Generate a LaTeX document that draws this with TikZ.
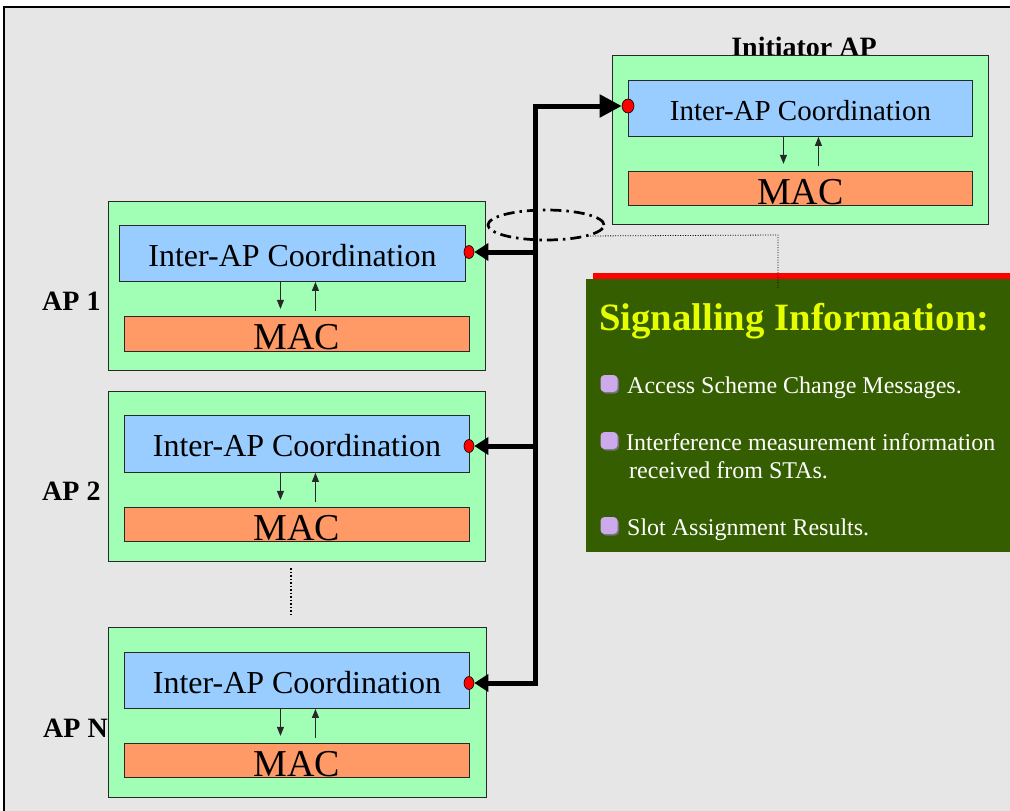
\documentclass[tikz,border=0pt]{standalone}
\usepackage{fontspec}
\setmainfont{Liberation Serif}
\usetikzlibrary{arrows.meta,shapes.geometric}
\definecolor{bg}{RGB}{230,230,230}
\definecolor{apgreen}{RGB}{160,255,180}
\definecolor{coordblue}{RGB}{153,204,255}
\definecolor{macorange}{RGB}{255,153,102}
\definecolor{siggreen}{RGB}{53,94,0}
\definecolor{sigyellow}{RGB}{230,255,0}
\definecolor{bulletcol}{RGB}{204,170,235}
\definecolor{edge}{RGB}{40,40,40}
\begin{document}
\begin{tikzpicture}[x=1pt,y=-1pt,
  apbox/.style={draw=edge,line width=0.9pt,fill=apgreen,anchor=north west,inner sep=0pt},
  coordbox/.style={draw=edge,line width=0.9pt,fill=coordblue,anchor=north west,inner sep=0pt,
     font=\fontsize{32}{32}\selectfont,text height=26pt,text depth=0pt},
  macbox/.style={draw=edge,line width=0.9pt,fill=macorange,anchor=north west,inner sep=0pt,
     font=\fontsize{38}{38}\selectfont,text height=32pt,text depth=0pt},
  aplabel/.style={font=\bfseries\fontsize{28}{28}\selectfont,anchor=base west,inner sep=0pt},
  reddot/.style={ellipse,draw=black,line width=0.6pt,fill=red,minimum width=10pt,minimum height=13pt,inner sep=0pt},
  smallarr/.style={draw=edge,line width=1pt,-{Triangle[length=9pt,width=7pt]}},
  bus/.style={draw=black,line width=5pt,line join=miter},
  itemtext/.style={text=white,font=\fontsize{24}{24}\selectfont,anchor=base west,inner sep=0pt},
  bulletnode/.style={fill=bulletcol,rounded corners=4pt,minimum width=17pt,minimum height=17pt,inner sep=0pt},
  bulletshadow/.style={fill=black!55,rounded corners=4pt,minimum width=17pt,minimum height=17pt,inner sep=0pt}
]
\useasboundingbox (0,0) rectangle (1010,811);
% frame
\draw[fill=bg,line width=1.2pt] (4,7) rectangle (1025,825);

% labels behind boxes
\node[font=\bfseries\fontsize{28}{28}\selectfont,anchor=base,inner sep=0pt] (initlabel) at (804,56) {Initiator AP};
\node[aplabel] (l1) at (42,310) {AP 1};
\node[aplabel] (l2) at (42,500) {AP 2};
\node[aplabel] (lN) at (43,737) {AP N};

% Initiator AP
\node[apbox,minimum width=376pt,minimum height=169pt] (oi) at (612,55) {};
\node[coordbox,minimum width=344pt,minimum height=56pt,font=\fontsize{29}{29}\selectfont,text height=24pt] (bi) at (628,80) {Inter-AP Coordination};
\node[macbox,minimum width=344pt,minimum height=34pt] (mi) at (628,171) {MAC};
\draw[smallarr] ([xshift=-17pt]bi.south) -- ++(0,27);
\draw[smallarr] ([xshift=18pt,yshift=-29pt]bi.south) -- ([xshift=18pt]bi.south);

% AP 1
\node[apbox,minimum width=377pt,minimum height=169pt] (o1) at (108,201) {};
\node[coordbox,minimum width=346pt,minimum height=56pt] (b1) at (119,225) {Inter-AP Coordination};
\node[macbox,minimum width=345pt,minimum height=35pt] (m1) at (124,316) {MAC};
\draw[smallarr] ([xshift=-12pt]b1.south) -- ++(0,27);
\draw[smallarr] ([xshift=23pt,yshift=-29pt]b1.south) -- ([xshift=23pt]b1.south);

% AP 2
\node[apbox,minimum width=377pt,minimum height=170pt] (o2) at (108,391) {};
\node[coordbox,minimum width=345pt,minimum height=57pt] (b2) at (124,415) {Inter-AP Coordination};
\node[macbox,minimum width=345pt,minimum height=34pt] (m2) at (124,507) {MAC};
\draw[smallarr] ([xshift=-16.5pt]b2.south) -- ++(0,27);
\draw[smallarr] ([xshift=18.5pt,yshift=-29pt]b2.south) -- ([xshift=18.5pt]b2.south);

% AP N
\node[apbox,minimum width=378pt,minimum height=170pt] (oN) at (108,627) {};
\node[coordbox,minimum width=345pt,minimum height=56pt] (bN) at (124,652) {Inter-AP Coordination};
\node[macbox,minimum width=345pt,minimum height=34pt] (mN) at (124,743) {MAC};
\draw[smallarr] ([xshift=-16.5pt]bN.south) -- ++(0,27);
\draw[smallarr] ([xshift=18.5pt,yshift=-29pt]bN.south) -- ([xshift=18.5pt]bN.south);

% vertical dots
\draw[line width=1.5pt,dash pattern=on 1.5pt off 2pt] (291,568) -- (291,617);

% red dots
\node[reddot,minimum width=12pt,minimum height=14pt] (di) at (628,106) {};
\node[reddot] (d1) at (469,252) {};
\node[reddot] (d2) at (469,446) {};
\node[reddot] (dN) at (469,683) {};

% bus
\coordinate (jT) at (535,106);
\coordinate (j1) at (535,252);
\coordinate (j2) at (535,446);
\coordinate (jN) at (535,683);
\draw[bus,{Triangle[length=14pt,width=17pt]}-{Triangle[length=22pt,width=22pt]}] (dN.east) -- (jN) -- (jT) -- (di.west);
\draw[bus,-{Triangle[length=14pt,width=17pt]}] (j1) -- (d1.east);
\draw[bus,-{Triangle[length=14pt,width=17pt]}] (j2) -- (d2.east);

% selection ellipse
\node[ellipse,draw=black,line width=2.7pt,dash pattern=on 11pt off 5pt on 2.5pt off 5pt,
      minimum width=116pt,minimum height=30pt,inner sep=0pt] (sel) at (546,225) {};

% signalling box
\node[fill=red,anchor=north west,minimum width=430pt,minimum height=7pt,inner sep=0pt] (redbar) at (593,273) {};
\node[fill=siggreen,anchor=north west,minimum width=430pt,minimum height=273pt,inner sep=0pt] (sig) at (586,279) {};
\node[anchor=base west,inner sep=0pt,text=sigyellow,font=\bfseries\fontsize{38.7}{38.7}\selectfont] (sigt) at (599,330) {Signalling Information:};

\node[bulletshadow] at (610.5,385) {};
\node[bulletnode] (bu1) at (609,383.5) {};
\node[itemtext] (i1) at (627,393) {Access Scheme Change Messages.};
\node[bulletshadow] at (610.5,442) {};
\node[bulletnode] (bu2) at (609,440.5) {};
\node[itemtext] (i2) at (626,450) {Interference measurement information};
\node[itemtext] (i2b) at (629,478) {received from STAs.};
\node[bulletshadow] at (610.5,527) {};
\node[bulletnode] (bu3) at (609,525.5) {};
\node[itemtext] (i3) at (627,535) {Slot Assignment Results.};

% callout
\coordinate (co) at (778,235);
\coordinate (ce) at (778,289);
\draw[line width=0.8pt,dash pattern=on 1pt off 1.5pt] (sel.-14) -- (co) -- (ce);
\end{tikzpicture}
\end{document}
